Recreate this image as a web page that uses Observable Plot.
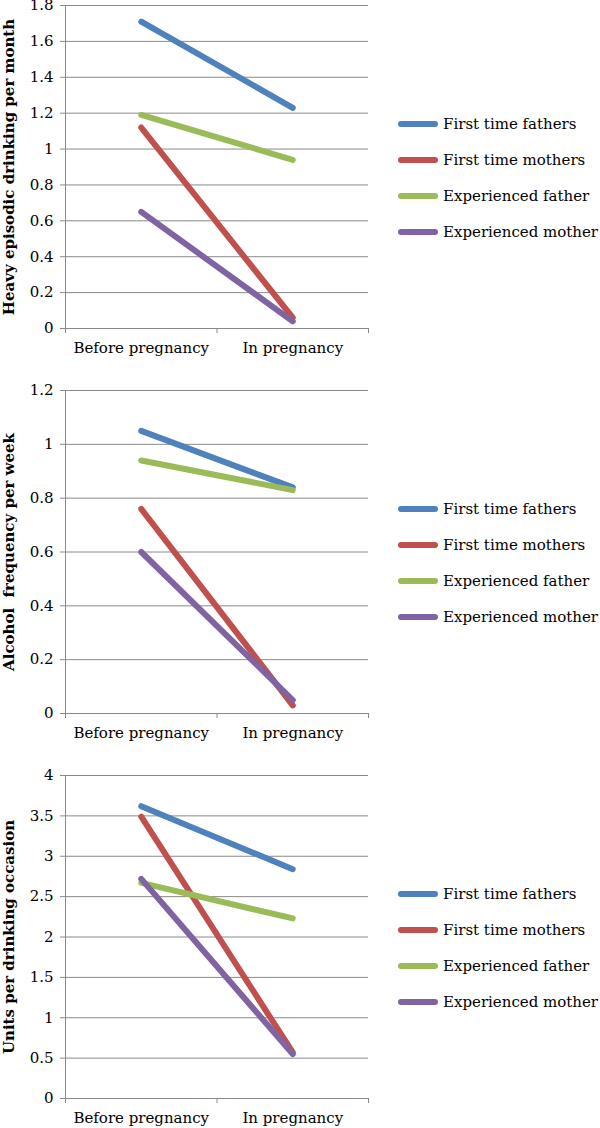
<!DOCTYPE html>
<html>
<head>
<meta charset="utf-8">
<script src="https://cdn.jsdelivr.net/npm/d3@7"></script>
<script src="https://cdn.jsdelivr.net/npm/@observablehq/plot@0.6"></script>
<style>
  html, body { margin: 0; padding: 0; background: white; }
  #root { width: 600px; }
  .panel { position: relative; width: 600px; }
  .legend { position: absolute; left: 0; top: 0; width: 600px; height: 100%; pointer-events: none; }
  .row { position: absolute; left: 398px; height: 20px; display: flex; align-items: center; }
  .sw { width: 40px; height: 6px; border-radius: 3px; margin-right: 5px; }
  .lt { font-family: "DejaVu Serif", serif; font-size: 15px; color: #000; white-space: nowrap; }
</style>
</head>
<body>
<div id="root"></div>
<script>
const categories = ["Before pregnancy", "In pregnancy"];
const seriesNames = ["First time fathers", "First time mothers", "Experienced father", "Experienced mother"];
const seriesColors = ["#4F81BD", "#C0504D", "#9BBB59", "#8064A2"];

const heavyBefore = [1.71, 1.12, 1.19, 0.65];
const heavyIn = [1.23, 0.06, 0.94, 0.04];
const heavyTicks = [0, 0.2, 0.4, 0.6, 0.8, 1, 1.2, 1.4, 1.6, 1.8];

const freqBefore = [1.05, 0.76, 0.94, 0.60];
const freqIn = [0.84, 0.03, 0.83, 0.05];
const freqTicks = [0, 0.2, 0.4, 0.6, 0.8, 1, 1.2];

const unitsBefore = [3.62, 3.49, 2.67, 2.72];
const unitsIn = [2.84, 0.57, 2.23, 0.55];
const unitsTicks = [0, 0.5, 1, 1.5, 2, 2.5, 3, 3.5, 4];

const panelLabels = ["Heavy episodic drinking per month", "Alcohol  frequency per week", "Units per drinking occasion"];

const panels = [
  {label: panelLabels[0], before: heavyBefore, during: heavyIn, ticks: heavyTicks, height: 385, mb: 57},
  {label: panelLabels[1], before: freqBefore, during: freqIn, ticks: freqTicks, height: 385, mb: 57},
  {label: panelLabels[2], before: unitsBefore, during: unitsIn, ticks: unitsTicks, height: 358, mb: 30}
];

const gray = "#8a8a8a";
const font = "DejaVu Serif";
const root = document.getElementById("root");

panels.forEach(p => {
  const data = [];
  seriesNames.forEach((s, i) => {
    data.push({series: s, cat: 0.5, value: p.before[i]});
    data.push({series: s, cat: 1.5, value: p.during[i]});
  });
  const chart = Plot.plot({
    width: 600,
    height: p.height,
    marginLeft: 65,
    marginRight: 232,
    marginTop: 5,
    marginBottom: p.mb,
    style: {fontFamily: font, fontSize: "15px", background: "white", color: "#000", overflow: "visible"},
    x: {domain: [0, 2], axis: null},
    y: {domain: [0, p.ticks[p.ticks.length - 1]], axis: null},
    color: {domain: seriesNames, range: seriesColors},
    marks: [
      Plot.gridY(p.ticks, {stroke: gray, strokeOpacity: 1}),
      Plot.ruleX([0], {stroke: gray}),
      Plot.ruleY([0], {stroke: gray}),
      Plot.axisY(p.ticks, {tickSize: 5, tickPadding: 7, stroke: gray, fill: "#000", tickFormat: d3.format("~g"), label: null, fontSize: 15}),
      Plot.axisX([0, 1, 2], {tickSize: 5, stroke: gray, tickFormat: () => "", label: null}),
      Plot.axisX([0.5, 1.5], {tickSize: 0, tickPadding: 14, fill: "#000", tickFormat: d => categories[Math.round(d - 0.5)], label: null, fontSize: 15}),
      Plot.line(data, {x: "cat", y: "value", z: "series", stroke: "series", strokeWidth: 6, strokeLinecap: "round", strokeLinejoin: "round"}),
      Plot.text([p.label], {frameAnchor: "left", rotate: -90, dx: -56, fontWeight: "bold", fontSize: 15, fill: "#000", textAnchor: "middle"})
    ]
  });
  const panel = document.createElement("div");
  panel.className = "panel";
  panel.appendChild(chart);
  const legend = document.createElement("div");
  legend.className = "legend";
  seriesNames.forEach((s, i) => {
    const row = document.createElement("div");
    row.className = "row";
    row.style.top = (114 + i * 36) + "px";
    const sw = document.createElement("div");
    sw.className = "sw";
    sw.style.background = seriesColors[i];
    const lt = document.createElement("span");
    lt.className = "lt";
    lt.textContent = s;
    row.appendChild(sw);
    row.appendChild(lt);
    legend.appendChild(row);
  });
  panel.appendChild(legend);
  root.appendChild(panel);
});
</script>
</body>
</html>
